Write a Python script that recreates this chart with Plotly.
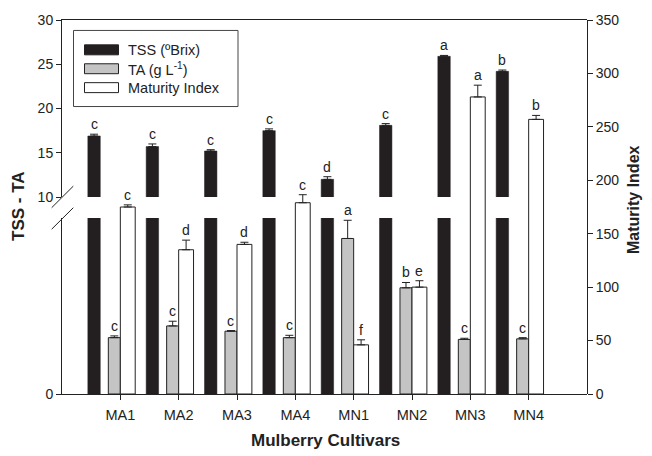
import plotly.graph_objects as go

# Cultivars and measured values (mean and standard error)
cultivars = ["MA1", "MA2", "MA3", "MA4", "MN1", "MN2", "MN3", "MN4"]

tss = [16.9, 15.7, 15.2, 17.5, 12.0, 18.1, 25.9, 24.2]          # ºBrix
tss_err = [0.2, 0.3, 0.15, 0.2, 0.3, 0.2, 0.1, 0.15]
tss_letters = ["c", "c", "c", "c", "d", "c", "a", "b"]

ta = [0.96, 1.16, 1.07, 0.96, 2.65, 1.81, 0.93, 0.94]            # g L-1
ta_err = [0.03, 0.08, 0.01, 0.04, 0.31, 0.09, 0.02, 0.02]
ta_letters = ["c", "c", "c", "c", "a", "b", "c", "c"]

mi = [175, 135, 140, 179, 46, 100, 278, 257]                      # TSS/TA
mi_err = [2, 9, 2, 7.5, 4.7, 6, 11, 3.7]
mi_letters = ["c", "d", "d", "c", "f", "e", "a", "b"]

# Geometry of the figure (pixels)
W, H = 652, 456
ML, MR, MT, MB = 62, 65, 18, 62
PW, PH = W - ML - MR, H - MT - MB

def px(x):
    return (x - ML) / PW

def py(y):
    return (H - MB - y) / PH

LOWER_TOP = py(217)      # top of the lower (0..3) segment
UPPER_BOT = py(196)      # bottom of the upper (10..30) segment

FONT = "Arial, Liberation Sans, sans-serif"
INK = "#222222"
BLACK_FILL = "#231f20"
GREY_FILL = "#c4c4c4"

# bar placement relative to each category tick (category units)
TSS_OFF, TSS_W = -0.557, 0.213
TA_OFF, TA_W = -0.206, 0.206
MI_OFF, MI_W = 0.0, 0.255

def err(vals):
    return dict(type="data", array=vals, arrayminus=[0] * len(vals), symmetric=False,
                color=INK, thickness=1, width=4)

fig = go.Figure()

# TSS: drawn on both segments of the broken left axis
fig.add_trace(go.Bar(x=cultivars, y=tss, xaxis="x2", yaxis="y2", name="TSS (ºBrix)",
                     offset=TSS_OFF, width=TSS_W,
                     marker=dict(color=BLACK_FILL, line=dict(color=BLACK_FILL, width=0.5)),
                     error_y=err(tss_err), showlegend=False))
fig.add_trace(go.Bar(x=cultivars, y=tss, xaxis="x", yaxis="y", name="TSS (ºBrix)",
                     offset=TSS_OFF, width=TSS_W,
                     marker=dict(color=BLACK_FILL, line=dict(color=BLACK_FILL, width=0.5)),
                     showlegend=False))
# TA on the lower segment
fig.add_trace(go.Bar(x=cultivars, y=ta, xaxis="x", yaxis="y", name="TA (g L-1)",
                     offset=TA_OFF, width=TA_W,
                     marker=dict(color=GREY_FILL, line=dict(color=INK, width=1)),
                     error_y=err(ta_err), showlegend=False))
# Maturity index on the right axis
fig.add_trace(go.Bar(x=cultivars, y=mi, xaxis="x", yaxis="y3", name="Maturity Index",
                     offset=MI_OFF, width=MI_W,
                     marker=dict(color="white", line=dict(color=INK, width=1)),
                     error_y=err(mi_err), showlegend=False))

# Significance letters above each error bar
annotations = []
def letters(vals, errs, labs, off, w, xref, yref):
    for i, (v, e, t) in enumerate(zip(vals, errs, labs)):
        annotations.append(dict(x=i + off + w / 2, y=v + e, xref=xref, yref=yref, text=t,
                                showarrow=False, yanchor="bottom", xanchor="center",
                                yshift=0, font=dict(family=FONT, size=14, color=INK)))

letters(tss, tss_err, tss_letters, TSS_OFF, TSS_W, "x2", "y2")
letters(ta, ta_err, ta_letters, TA_OFF, TA_W, "x", "y")
letters(mi, mi_err, mi_letters, MI_OFF, MI_W, "x", "y3")

# Axis titles
annotations += [
    dict(x=px(18), y=py(205), xref="paper", yref="paper", text="<b>TSS - TA</b>", textangle=-90,
         showarrow=False, xanchor="center", yanchor="middle",
         font=dict(family=FONT, size=17, color=INK)),
    dict(x=px(633), y=py(199), xref="paper", yref="paper", text="<b>Maturity Index</b>",
         textangle=-90, showarrow=False, xanchor="center", yanchor="middle",
         font=dict(family=FONT, size=16, color=INK)),
    dict(x=px(325), y=py(441), xref="paper", yref="paper", text="<b>Mulberry Cultivars</b>",
         showarrow=False, xanchor="center", yanchor="middle",
         font=dict(family=FONT, size=17, color=INK)),
]

# Legend box drawn as shapes and text
shapes = [dict(type="rect", xref="paper", yref="paper", x0=px(73.5), x1=px(238), y0=py(28.5), y1=py(105),
               line=dict(color="#444444", width=1), fillcolor="white", layer="above")]
legend_rows = [("TSS (ºBrix)", BLACK_FILL, BLACK_FILL, 48),
               ("TA (g L<sup>-1</sup>)", GREY_FILL, INK, 67),
               ("Maturity Index", "white", INK, 86)]
for label, fill, edge, yc in legend_rows:
    shapes.append(dict(type="rect", xref="paper", yref="paper", x0=px(84.5), x1=px(118.5),
                       y0=py(yc - 5), y1=py(yc + 5), fillcolor=fill,
                       line=dict(color=edge, width=1), layer="above"))
    annotations.append(dict(x=px(126), y=py(yc), xref="paper", yref="paper", text=label,
                            showarrow=False, xanchor="left", yanchor="middle",
                            font=dict(family=FONT, size=14.5, color=INK)))

# Axis break marks
for y_a, y_b in [(206.7, 185), (228.3, 206.7)]:
    shapes.append(dict(type="line", xref="paper", yref="paper", x0=px(51.7), y0=py(y_a),
                       x1=px(73.3), y1=py(y_b), line=dict(color=INK, width=1)))

tickfont = dict(family=FONT, size=14, color=INK)
axis_common = dict(showgrid=False, zeroline=False, showline=True, linecolor=INK, linewidth=1,
                   ticks="outside", ticklen=5, tickwidth=1, tickcolor=INK, tickfont=tickfont)

fig.update_layout(
    width=W, height=H, margin=dict(l=ML, r=MR, t=MT, b=MB),
    paper_bgcolor="white", plot_bgcolor="rgba(0,0,0,0)", barmode="overlay", showlegend=False,
    xaxis=dict(showgrid=False, zeroline=False, showline=True, linecolor=INK, linewidth=1,
               ticks="outside", ticklen=5, tickwidth=1, tickcolor=INK,
               tickfont=dict(family=FONT, size=14.5, color=INK), ticklabelstandoff=3,
               domain=[0, 1], anchor="y", range=[-1, 8], type="category"),
    xaxis2=dict(showgrid=False, zeroline=False, showline=True, linecolor=INK, linewidth=1,
                anchor="y2", side="top", matches="x", showticklabels=False, ticks="",
                range=[-1, 8], type="category"),
    yaxis=dict(**axis_common, domain=[0, LOWER_TOP], anchor="x", range=[0, 3],
               tickvals=[0], ticktext=["0"]),
    yaxis2=dict(**axis_common, domain=[UPPER_BOT, 1], anchor="x2", range=[10, 30],
                tickvals=[10, 15, 20, 25, 30]),
    yaxis3=dict(**axis_common, domain=[0, 1], anchor="x", side="right", range=[0, 350],
                tickvals=[0, 50, 100, 150, 200, 250, 300, 350]),
    annotations=annotations, shapes=shapes,
)

fig.write_html("out.html")
